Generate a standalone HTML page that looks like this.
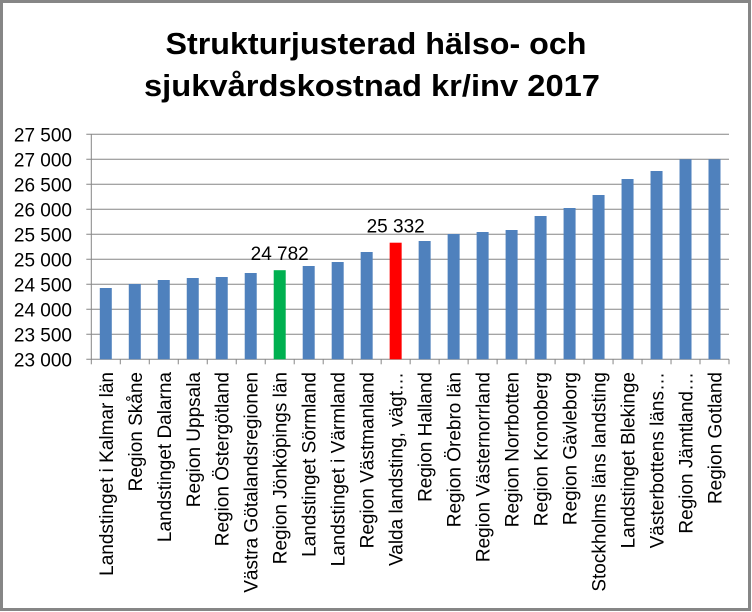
<!DOCTYPE html>
<html><head><meta charset="utf-8"><style>
body{margin:0;background:#fff}
svg{display:block;font-family:"Liberation Sans",sans-serif}
</style></head><body>
<svg id="chart" width="752" height="612" viewBox="0 0 752 612" xmlns="http://www.w3.org/2000/svg">
<rect x="1.5" y="1.5" width="748" height="608" fill="#fff" stroke="#868686" stroke-width="3"/>
<text x="376" y="54" text-anchor="middle" font-size="31" font-weight="bold" textLength="421" lengthAdjust="spacingAndGlyphs">Strukturjusterad hälso- och</text>
<text x="372" y="96" text-anchor="middle" font-size="31" font-weight="bold" textLength="456" lengthAdjust="spacingAndGlyphs">sjukvårdskostnad  kr/inv 2017</text>
<g id="grid"></g><g id="bars"></g><g id="xlabels"></g><g id="ylabels"></g>
</svg>
<script>
const categories=["Landstinget i Kalmar län","Region Skåne","Landstinget Dalarna","Region Uppsala","Region Östergötland","Västra Götalandsregionen","Region Jönköpings län","Landstinget Sörmland","Landstinget i Värmland","Region Västmanland","Valda landsting, vägt…","Region Halland","Region Örebro län","Region Västernorrland","Region Norrbotten","Region Kronoberg","Region Gävleborg","Stockholms läns landsting","Landstinget Blekinge","Västerbottens läns…","Region Jämtland…","Region Gotland"];
const values=[24426,24506,24586,24626,24646,24726,24782,24866,24946,25146,25332,25366,25506,25546,25586,25866,26026,26286,26606,26766,27000,27000];
const highlight={6:"#00b050",10:"#ff0000"};
const shownLabels={6:"24 782",10:"25 332"};
const yTicks=[23000,23500,24000,24500,25000,25500,26000,26500,27000,27500];
const NS="http://www.w3.org/2000/svg";
const x0=91.3,x1=729,yTop=134.3,yBot=359.3,yMin=23000,yMax=27500;
const step=(x1-x0)/categories.length;
const y=v=>yBot-(v-yMin)/(yMax-yMin)*(yBot-yTop);
const xc=i=>x0+step*(i+0.5);
function mk(t,a,p){const e=document.createElementNS(NS,t);for(const k in a)e.setAttribute(k,a[k]);document.getElementById(p).appendChild(e);return e;}
const fmt=v=>String(v).replace(/\B(?=(\d{3})+(?!\d))/g," ");
yTicks.forEach(v=>{
  const l=mk("line",{x1:x0-5,x2:x1,y1:y(v),y2:y(v),stroke:"#868686","stroke-width":1},"grid");
  
  
  const t=mk("text",{x:72,y:y(v)+7,"text-anchor":"end","font-size":19},"ylabels");
  t.textContent=fmt(v);
  
  
});
const ax=mk("line",{x1:x0,x2:x0,y1:yTop,y2:yBot,stroke:"#868686"},"grid");


for(let i=0;i<=categories.length;i++){
  const tk=mk("line",{x1:x0+step*i,x2:x0+step*i,y1:yBot,y2:yBot+5,stroke:"#868686"},"grid");
  
  
}
categories.forEach((c,i)=>{
  const b=mk("rect",{x:xc(i)-6,width:12,y:y(values[i]),height:yBot-y(values[i]),fill:highlight[i]||"#4f81bd"},"bars");
  
  
  if(shownLabels[i]){
    const t=mk("text",{x:xc(i),y:y(values[i])-10,"text-anchor":"middle","font-size":19},"bars");
    t.textContent=fmt(values[i]);
    
    
  }
  const t=mk("text",{transform:`translate(${xc(i)+7},372) rotate(-90)`,"text-anchor":"end","font-size":19},"xlabels");
  t.textContent=c;
  
  
});
</script>
</body></html>
